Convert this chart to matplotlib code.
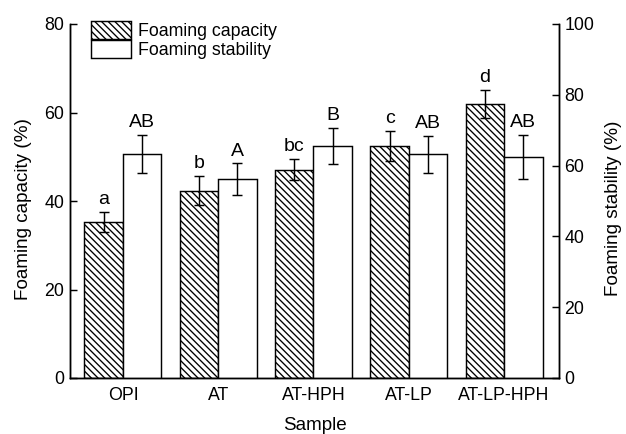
import numpy as np
import matplotlib
matplotlib.use('Agg')
import matplotlib.pyplot as plt

plt.rcParams['font.family'] = ['Liberation Sans', 'DejaVu Sans']
plt.rcParams['hatch.linewidth'] = 1.2

# dados
samples = ['OPI', 'AT', 'AT-HPH', 'AT-LP', 'AT-LP-HPH']
capacity = [35.2, 42.3, 47.1, 52.5, 61.9]
capacity_err = [2.3, 3.3, 2.4, 3.4, 3.2]
capacity_letters = ['a', 'b', 'bc', 'c', 'd']
stability = [63.3, 56.2, 65.5, 63.2, 62.4]
stability_err = [5.4, 4.4, 5.1, 5.2, 6.3]
stability_letters = ['AB', 'A', 'B', 'AB', 'AB']

dpi = 80
fig = plt.figure(figsize=(626 / dpi, 434 / dpi), dpi=dpi)
ax = fig.add_axes([70 / 626, 1 - 378 / 434, (559 - 70) / 626, (378 - 24) / 434])
ax2 = ax.twinx()

x = np.arange(len(samples))
w = 0.404
lw = 1.3

b1 = ax.bar(x - w / 2, capacity, w, color='white', edgecolor='black',
            hatch='\\\\\\\\', linewidth=lw, label='Foaming capacity')
ax.errorbar(x - w / 2, capacity, yerr=capacity_err, fmt='none', ecolor='black',
            elinewidth=lw, capsize=4.8, capthick=lw)
b2 = ax2.bar(x + w / 2, stability, w, color='white', edgecolor='black',
             linewidth=lw, label='Foaming stability')
ax2.errorbar(x + w / 2, stability, yerr=stability_err, fmt='none', ecolor='black',
             elinewidth=lw, capsize=4.8, capthick=lw)

for xi, v, e, t in zip(x, capacity, capacity_err, capacity_letters):
    ax.annotate(t, (xi - w / 2, v + e), xytext=(0, 7), textcoords='offset points',
                ha='center', va='baseline', fontsize=17.5)
for xi, v, e, t in zip(x, stability, stability_err, stability_letters):
    ax2.annotate(t, (xi + w / 2, v + e), xytext=(0, 7), textcoords='offset points',
                 ha='center', va='baseline', fontsize=17.5)

ax.set_xlim(-0.556, 4.577)
ax.set_ylim(0, 80)
ax2.set_ylim(0, 100)
ax.set_yticks([0, 20, 40, 60, 80])
ax2.set_yticks([0, 20, 40, 60, 80, 100])
ax.set_xticks(x)
ax.set_xticklabels(samples, fontsize=16)
ax.tick_params(axis='x', length=0, pad=8)
ax.tick_params(axis='y', direction='in', length=6, width=lw, labelsize=16, pad=5)
ax2.tick_params(axis='y', direction='in', length=6, width=lw, labelsize=16, pad=5)

for a in (ax, ax2):
    a.spines['top'].set_visible(False)
    for s in ('left', 'right', 'bottom'):
        a.spines[s].set_linewidth(lw)

ax.set_xlabel('Sample', fontsize=17, labelpad=12)
ax.set_ylabel('Foaming capacity (%)', fontsize=17)
ax2.set_ylabel('Foaming stability (%)', fontsize=17)
ax.yaxis.set_label_coords(-0.078, 0.478)
ax2.yaxis.set_label_coords(1.094, 0.478)

fig.legend([b1, b2], ['Foaming capacity', 'Foaming stability'], loc='upper left',
           bbox_to_anchor=(91 / 626, 1 - 21 / 434), frameon=False, fontsize=16,
           handlelength=2.25, handleheight=1.17, labelspacing=0.0,
           handletextpad=0.4, borderpad=0, borderaxespad=0)

fig.savefig('out.png', dpi=dpi)
